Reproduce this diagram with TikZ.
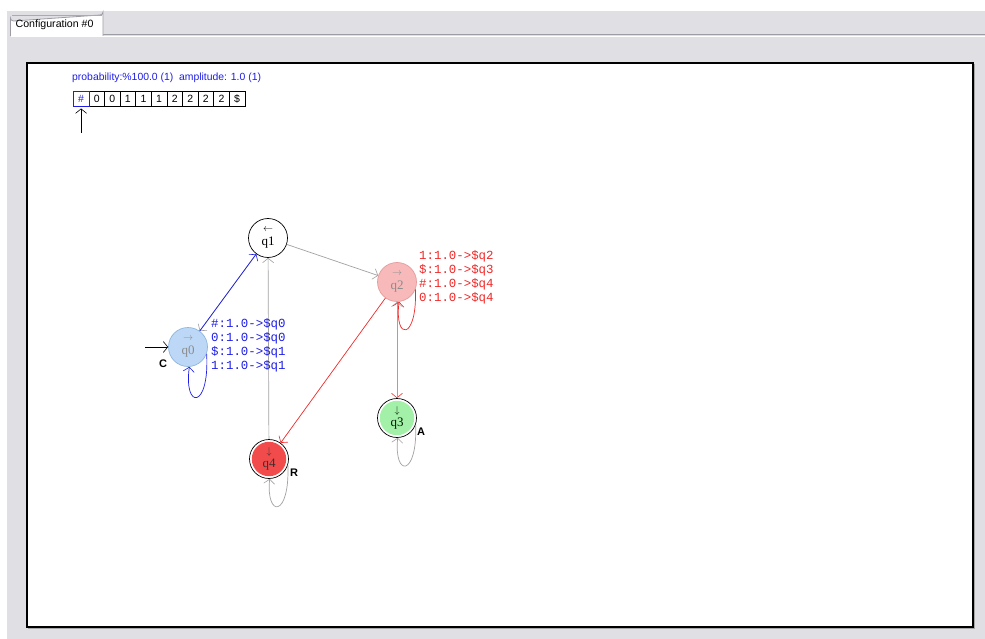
\documentclass[tikz,border=0pt]{standalone}
\usepackage{fontspec}
\setmainfont{Liberation Serif}
\newfontfamily\uisans{Liberation Sans}
\newfontfamily\uimono{Liberation Mono}
\usetikzlibrary{arrows.meta}

\definecolor{wingray}{HTML}{E0DFE3}
\definecolor{tabedge}{HTML}{9C9CA4}
\definecolor{taborange}{HTML}{F0A030}
\definecolor{edgegray}{HTML}{A2A2A2}
\definecolor{labblue}{HTML}{1E1EE6}
\definecolor{labred}{HTML}{F02828}
\definecolor{qzerofill}{HTML}{BCD8F6}
\definecolor{qzeroline}{HTML}{8EB6DE}
\definecolor{qtwofill}{HTML}{F7B9B9}
\definecolor{qtwoline}{HTML}{E69C9C}
\definecolor{qthreefill}{HTML}{A3F0A8}
\definecolor{qfourfill}{HTML}{F24B4B}
\definecolor{dimtext}{HTML}{8C8C8C}

\tikzset{
  x=1pt, y=-1pt,
  barb/.style={-{Straight Barb[length=4.5pt,width=11pt,line width=0.6pt]}},
  gray edge/.style={barb, draw=edgegray, line width=0.7pt},
  red edge/.style={barb, draw=labred, line width=0.7pt},
  blue edge/.style={barb, draw=labblue, line width=0.7pt},
  state/.style={circle, minimum size=39pt, inner sep=0pt, align=center,
    font=\fontsize{13}{12}\selectfont, line width=0.7pt},
  final/.style={state, draw=black, fill=white,
    path picture={\fill[#1] (path picture bounding box.center) circle (17.2pt);}},
  translabel/.style={anchor=north west, align=left, inner sep=0pt,
    font=\uimono\fontsize{12.4}{14}\selectfont},
  flag/.style={font=\uisans\bfseries\fontsize{11}{11}\selectfont, inner sep=0pt},
  cell/.style={draw, line width=0.7pt, minimum width=15.6pt, minimum height=15.6pt,
    inner sep=0pt, font=\uisans\fontsize{10.5}{10}\selectfont},
}

% head-direction glyph above a state name
\newcommand{\hd}[1]{{\fontsize{10}{10}\selectfont$#1$}\\[1.5pt]}

\begin{document}
\begin{tikzpicture}
\useasboundingbox (0,0) rectangle (985,639);
\fill[white] (0,0) rectangle (985,639);

% window background and tab strip
\fill[wingray] (7,11) rectangle (985,639);
\draw[tabedge, line width=0.8pt] (103,34.5) -- (985,34.5);
\draw[white, line width=0.8pt] (11,36.5) -- (985,36.5);
\draw[tabedge, fill=white, line width=0.8pt]
  (10.5,36) -- (10.5,18) arc (180:90:3) -- (100,15) arc (90:0:3) -- (103,36);
\draw[taborange, line width=1.6pt] (12,15.6) -- (101.5,15.6);
\node[anchor=west, inner sep=0pt, font=\uisans\fontsize{10.6}{11}\selectfont] (tabtitle)
  at (15.5,25) {Configuration \#0};

% drawing area
\fill[gray!70] (28,64) rectangle (974.5,628.5);
\draw[black, fill=white, line width=1.8pt] (27,63) rectangle (973,627);

% status line and tape
\node[anchor=west, inner sep=0pt, text=labblue, font=\uisans\fontsize{10.4}{11}\selectfont] (status)
  at (72,77.5) {probability:\%100.0 (1)\ \ amplitude: 1.0 (1)};

\node[cell] (c1) at (96.7,98.8) {0};
\node[cell] (c2) at (112.3,98.8) {0};
\node[cell] (c3) at (127.9,98.8) {1};
\node[cell] (c4) at (143.5,98.8) {1};
\node[cell] (c5) at (159.1,98.8) {1};
\node[cell] (c6) at (174.7,98.8) {2};
\node[cell] (c7) at (190.3,98.8) {2};
\node[cell] (c8) at (205.9,98.8) {2};
\node[cell] (c9) at (221.5,98.8) {2};
\node[cell] (c10) at (237.1,98.8) {\$};
\node[cell, draw=labblue, text=labblue] (c0) at (81.1,98.8) {\#};

\coordinate (headtail) at (81.1,133);
\draw[barb, black, line width=0.7pt, shorten >=1.5pt] (headtail) -- (c0.south);

% states
\node[state, draw=black, fill=white] (q1) at (268,238) {\hd{\leftarrow}q1};
\node[state, draw=qtwoline, fill=qtwofill, text=dimtext] (q2) at (397,282) {\hd{\rightarrow}q2};
\node[state, draw=qzeroline, fill=qzerofill, text=dimtext] (q0) at (188,347) {\hd{\rightarrow}q0};
\node[final=qthreefill, text=black!75!green!40!black] (q3) at (397,418) {\hd{\downarrow}q3};
\node[final=qfourfill, text=black!80] (q4) at (269,459) {\hd{\downarrow}q4};

% start marker
\coordinate (init) at (145,347);
\draw[barb, black, line width=0.7pt] (init) -- (q0.west);

% transitions
\draw[gray edge] (q1) -- (q0);
\draw[blue edge] (q0) -- (q1);
\draw[gray edge] (q1) -- (q2);
\draw[gray edge] (q4) -- (q1);
\draw[red edge] (q2) -- (q3);
\draw[gray edge] (q3) -- (q2);
\draw[red edge] (q2) -- (q4);

% self loops
\draw[blue edge] (q0.-20) .. controls +(3,56) and +(-6,43) .. (q0.-86);
\draw[red edge] (q2.-22) .. controls +(2,51) and +(-5,40) .. (q2.-84);
\draw[gray edge] (q3.-20) .. controls +(2,52) and +(-4,40) .. (q3.-88);
\draw[gray edge] (q4.-18) .. controls +(2,53) and +(-4,39) .. (q4.-88);

% transition tables
\node[translabel, text=labblue] (t0) at (211,318)
  {\#:1.0->\$q0\\0:1.0->\$q0\\\$:1.0->\$q1\\1:1.0->\$q1};
\node[translabel, text=labred] (t2) at (419,250)
  {1:1.0->\$q2\\\$:1.0->\$q3\\\#:1.0->\$q4\\0:1.0->\$q4};

% state kinds
\node[flag] (kc) at (163,364) {C};
\node[flag] (ka) at (421,432) {A};
\node[flag] (kr) at (294,473) {R};
\end{tikzpicture}
\end{document}
